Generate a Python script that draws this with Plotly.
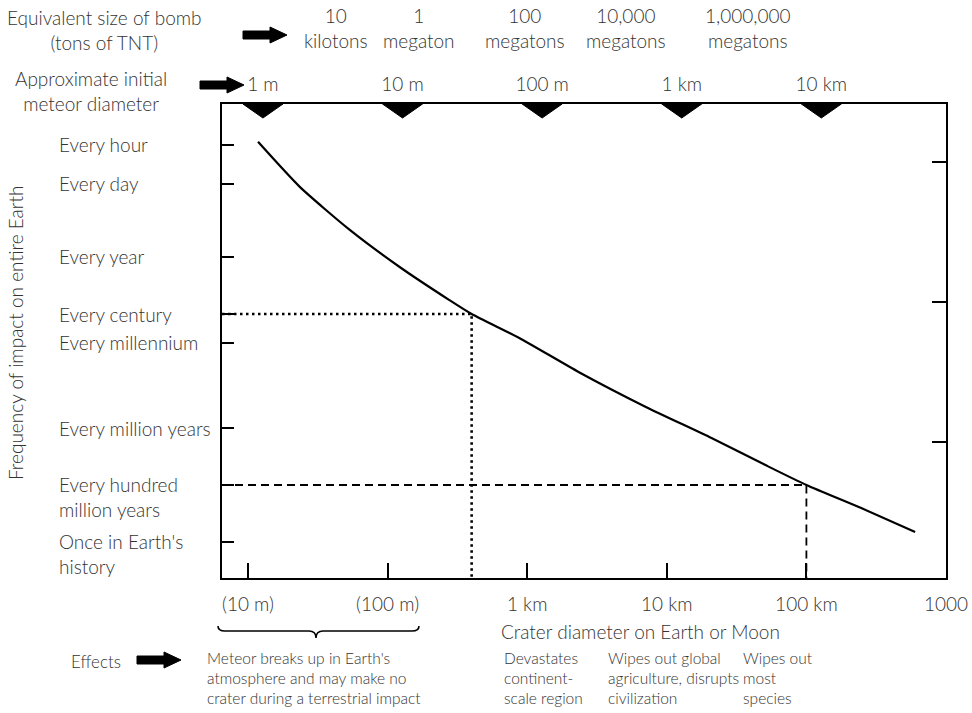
import numpy as np
import plotly.graph_objects as go

# ---------------- data ----------------
crater_m = [11.8, 23.5, 53.6, 122, 277, 400, 877, 2350, 7080, 20900, 50900, 100000, 247000, 601000]
interval_yr = [9.12e-5, 3.47e-3, 0.112, 2.24, 32.4, 100, 692, 1.10e4, 1.82e5, 2.24e6, 2.0e7, 1.0e8, 6.46e8, 4.47e9]

freq_labels = ["Every hour", "Every day", "Every year", "Every century", "Every millennium",
               "Every million years", "Every hundred<br>million years", "Once in Earth's<br>history"]
freq_years = [1 / 8766, 1 / 365.25, 1, 100, 1000, 1e6, 1e8, 1e10]

crater_ticks = [10, 100, 1000, 1e4, 1e5, 1e6]
crater_ticktext = ["(10 m)", "(100 m)", "1 km", "10 km", "100 km", "1000"]

meteor_m = [1, 10, 100, 1000, 10000]
meteor_text = ["1 m", "10 m", "100 m", "1 km", "10 km"]

bomb_text = ["10<br>kilotons", "1<br>megaton", "100<br>megatons", "10,000<br>megatons", "1,000,000<br>megatons"]

# marked reference points (crater size, interval)
century_pt = (400, 100)
hundred_myr_pt = (100000, 1e8)

effects_text = ["Meteor breaks up in Earth's<br>atmosphere and may make no<br>crater during a terrestrial impact",
                "Devastates<br>continent-<br>scale region",
                "Wipes out global<br>agriculture, disrupts<br>civilization",
                "Wipes out<br>most<br>species"]

# ---------------- layout constants ----------------
W, H = 972, 713
L, R, T, B = 222, 26, 104, 135
PW, PH = W - L - R, H - T - B
FONT = "Lato, 'Open Sans', sans-serif"
TXT = "#333333"
FS = 19

x_range = [0.8138, 6.0]          # log10 crater diameter (m)
meteor_offset = 1.107            # crater/meteor offset in decades
x2_range = [x_range[0] - meteor_offset, x_range[1] - meteor_offset]
y_range = [11.263, -5.368]       # log10 years, reversed (rare at bottom)
y2_range = [2.972, -0.414]       # right-hand ticks axis


def px(xpix):
    return (xpix - L) / PW


def py(ypix):
    return (T + PH - ypix) / PH


fig = go.Figure()

# main curve
fig.add_trace(go.Scatter(x=crater_m, y=interval_yr, mode="lines",
                         line=dict(color="black", width=2.2, shape="spline", smoothing=0.6),
                         hoverinfo="skip", showlegend=False))

x_left = 10 ** x_range[0]
y_bottom = 10 ** y_range[0]
# dotted guide (every century)
fig.add_trace(go.Scatter(x=[x_left, century_pt[0], century_pt[0]],
                         y=[century_pt[1], century_pt[1], y_bottom], mode="lines",
                         line=dict(color="black", width=2.6, dash="2.5px,3.5px"),
                         hoverinfo="skip", showlegend=False))
# dashed guide (every hundred million years)
fig.add_trace(go.Scatter(x=[x_left, hundred_myr_pt[0], hundred_myr_pt[0]],
                         y=[hundred_myr_pt[1], hundred_myr_pt[1], y_bottom], mode="lines",
                         line=dict(color="black", width=1.8, dash="8px,5px"),
                         hoverinfo="skip", showlegend=False))

# triangles on top edge (meteor sizes)
hw = 20 / PW * (x_range[1] - x_range[0])       # half width in decades
depth = 14 / PH * (y2_range[0] - y2_range[1])  # depth in y2 units
tx, ty = [], []
for m in meteor_m:
    tx += [m * 10 ** -hw, m, m * 10 ** hw, m * 10 ** -hw, None]
    ty += [y2_range[1], y2_range[1] + depth, y2_range[1], y2_range[1], None]
fig.add_trace(go.Scatter(x=tx, y=ty, xaxis="x2", yaxis="y2", mode="lines", fill="toself",
                         fillcolor="black", line=dict(color="black", width=1),
                         hoverinfo="skip", showlegend=False))

fig.update_layout(
    width=W, height=H, margin=dict(l=L, r=R, t=T, b=B, autoexpand=False),
    paper_bgcolor="white", plot_bgcolor="white",
    font=dict(family=FONT, size=FS, color=TXT, weight=300),
    showlegend=False,
    xaxis=dict(type="log", range=x_range, tickvals=crater_ticks, ticktext=crater_ticktext,
               ticks="inside", ticklen=15, tickwidth=1.5, tickcolor="black",
               showline=True, linecolor="black", linewidth=2, mirror=True,
               showgrid=False, zeroline=False, ticklabelstandoff=8, automargin=False,
               tickfont=dict(size=FS, color=TXT, weight=300)),
    xaxis2=dict(type="log", range=x2_range, overlaying="x", side="top",
                tickvals=meteor_m, ticktext=meteor_text, ticks="",
                showline=False, showgrid=False, zeroline=False, ticklabelstandoff=8,
                automargin=False, tickfont=dict(size=FS, color=TXT, weight=300)),
    yaxis=dict(type="log", range=y_range, tickvals=freq_years, showticklabels=False,
               ticks="inside", ticklen=12, tickwidth=1.5, tickcolor="black",
               showline=True, linecolor="black", linewidth=2, mirror=True,
               showgrid=False, zeroline=False, automargin=False),
    yaxis2=dict(range=y2_range, overlaying="y", side="right", tickvals=[0, 1, 2],
                showticklabels=False, ticks="inside", ticklen=14, tickwidth=1.5,
                tickcolor="black", showline=False, showgrid=False, zeroline=False,
                automargin=False),
)

ann = []


def block(text, x, yc, xanchor="center", size=FS, align="center"):
    """Text block centred vertically at pixel row yc."""
    ann.append(dict(x=x, xref="paper", y=py(yc), yref="paper", text=text, showarrow=False,
                    xanchor=xanchor, yanchor="middle", align=align,
                    font=dict(size=size, color=TXT, weight=300)))


# y tick labels, left aligned; first line level with its tick
for lab, yv in zip(freq_labels, freq_years):
    n = lab.count("<br>")
    ann.append(dict(x=px(57), xref="paper", y=np.log10(yv), yref="y", text=lab,
                    showarrow=False, xanchor="left", yanchor="middle", align="left",
                    yshift=-0.65 * FS * n, font=dict(size=FS, color=TXT, weight=300)))
# y axis title
ann.append(dict(x=px(15), y=py(333), xref="paper", yref="paper", xanchor="center",
                yanchor="middle", text="Frequency of impact on entire Earth", textangle=-90,
                showarrow=False, font=dict(size=FS, color=TXT, weight=300)))
# x axis title
block("Crater diameter on Earth or Moon", px(640), 631)
# header rows
block("Equivalent size of bomb<br>(tons of TNT)", px(104), 30)
block("Approximate initial<br>meteor diameter", px(91), 91)
for t, xc in zip(bomb_text, [336, 419, 525, 626, 747]):
    block(t, px(xc), 28)
# effects
block("Effects", px(96), 661, size=17)
for t, xl in zip(effects_text, [205, 502, 606, 741]):
    block(t, px(xl), 678, xanchor="left", size=15.5, align="left")
fig.update_layout(annotations=ann)

# arrows (pixel-sized shapes)
arrow_path = "M0,-4 L27,-4 L27,-8 L44,0 L27,8 L27,4 L0,4 Z"
shapes = []
for ax_, ay_ in [(243, 35), (200, 85), (137, 660)]:
    shapes.append(dict(type="path", xref="paper", yref="paper", xsizemode="pixel",
                       ysizemode="pixel", xanchor=px(ax_), yanchor=py(ay_),
                       path=arrow_path, fillcolor="black", line=dict(color="black", width=1)))
# brace
shapes.append(dict(type="path", xref="paper", yref="paper", xsizemode="pixel",
                   ysizemode="pixel", xanchor=px(218), yanchor=py(631),
                   path="M0,5 Q0,0 7,0 L91,0 Q98,0 98,-7 Q98,0 105,0 L194,0 Q201,0 201,5",
                   line=dict(color="black", width=1.6)))
fig.update_layout(shapes=shapes)

fig.write_html("out.html", config={"displayModeBar": False},
               post_script="document.body.style.margin='0';document.body.style.padding='0';")
